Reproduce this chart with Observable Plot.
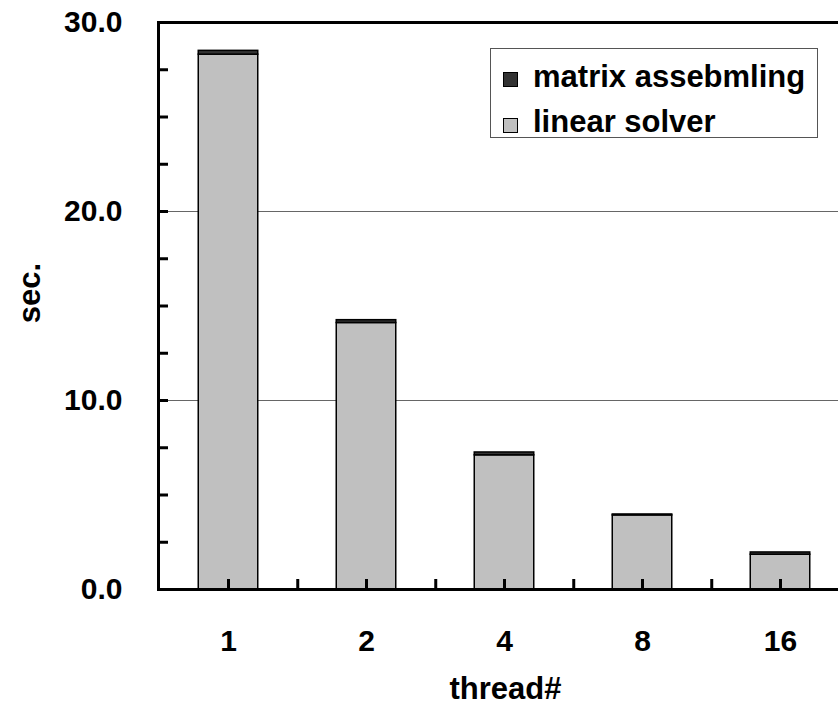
<!DOCTYPE html>
<html>
<head>
<meta charset="utf-8">
<script src="https://cdn.jsdelivr.net/npm/d3@7"></script>
<script src="https://cdn.jsdelivr.net/npm/@observablehq/plot@0.6"></script>
<style>
  body { margin: 0; background: #fff; font-family: "Liberation Sans", Arial, sans-serif; }
  #wrap { position: relative; width: 838px; height: 704px; overflow: hidden; background: #fff; }
  #wrap svg { position: absolute; left: 0; top: 0; overflow: hidden; }
  .legend { position: absolute; left: 490px; top: 48px; width: 328px; height: 90px; border: 1px solid #555; background: #fff; box-sizing: border-box; }
  .sw { position: absolute; width: 13px; height: 13px; border: 1px solid #000; }
  .lt { position: absolute; font-size: 31px; font-weight: bold; line-height: 35px; white-space: nowrap; color: #000; }
</style>
</head>
<body>
<div id="wrap"></div>
<script>
// ---- data ----
const threads = ["1", "2", "4", "8", "16"];
const linearSolver = [28.3, 14.1, 7.1, 3.92, 1.84];
const matrixAssembling = [0.2, 0.15, 0.15, 0.05, 0.12];
const seriesNames = ["linear solver", "matrix assebmling"];
const seriesColors = ["#c0c0c0", "#333333"];
const legendOrder = ["matrix assebmling", "linear solver"];
const yLabelTicks = [0, 10, 20, 30];
const yMinorTicks = [0, 2.5, 5, 7.5, 10, 12.5, 15, 17.5, 20, 22.5, 25, 27.5, 30];
const gridTicks = [10, 20];
const xTitle = "thread#";
const yTitle = "sec.";

const rows = threads.flatMap((t, i) => [
  {thread: t, series: seriesNames[0], value: linearSolver[i]},
  {thread: t, series: seriesNames[1], value: matrixAssembling[i]}
]);

const W = 838, H = 704, mL = 158, mT = 22, mB = 115;
const xRange = [158, 850.5];
const step = (xRange[1] - xRange[0]) / threads.length;

const chart = Plot.plot({
  width: W, height: H,
  marginLeft: mL, marginTop: mT, marginBottom: mB, marginRight: 0,
  style: {fontFamily: "'Liberation Sans', Arial, sans-serif", fontWeight: "bold", fontSize: "30px", color: "#000", background: "#fff", overflow: "hidden"},
  x: {domain: threads, range: xRange, padding: 0},
  y: {domain: [0, 30]},
  color: {domain: seriesNames, range: seriesColors},
  marks: [
    Plot.ruleY(gridTicks, {stroke: "#666", strokeWidth: 1}),
    Plot.barY(rows, {x: "thread", y: "value", fill: "series", stroke: "#000", strokeWidth: 1.5, insetLeft: 39.25, insetRight: 39.25}),
    Plot.ruleY([30], {stroke: "#000", strokeWidth: 3}),
    Plot.ruleY([0], {stroke: "#000", strokeWidth: 3}),
    Plot.frame({anchor: "left", stroke: "#000", strokeWidth: 3}),
    Plot.axisY(yMinorTicks, {tickSize: -10, strokeWidth: 3, tickFormat: () => "", label: null}),
    Plot.axisY(yLabelTicks, {tickSize: 0, tickPadding: 36, tickFormat: d => d.toFixed(1), fontSize: 30, label: null}),
    Plot.axisX(threads, {tickSize: -10, strokeWidth: 3, tickFormat: () => "", label: null}),
    Plot.axisX(threads, {tickSize: -10, strokeWidth: 3, tickFormat: () => "", label: null, dx: step / 2}),
    Plot.axisX(threads, {tickSize: 0, tickPadding: 40, fontSize: 30, label: null}),
    Plot.text([yTitle], {frameAnchor: "left", textAnchor: "middle", rotate: -90, dx: -128, dy: -13, fontSize: 31, fontWeight: "bold"}),
    Plot.text([xTitle], {frameAnchor: "bottom", dy: 109, dx: 7, fontSize: 31, fontWeight: "bold"})
  ]
});

const wrap = document.getElementById("wrap");
wrap.appendChild(chart);

// legend
const lg = document.createElement("div");
lg.className = "legend";
wrap.appendChild(lg);
const color = d3.scaleOrdinal(seriesNames, seriesColors);
legendOrder.forEach((name, i) => {
  const sw = document.createElement("div");
  sw.className = "sw";
  sw.style.left = (502 - 490) + "px";
  sw.style.top = (71 - 48 + i * 46) + "px";
  sw.style.background = color(name);
  lg.appendChild(sw);
  const t = document.createElement("div");
  t.className = "lt";
  t.style.left = (532 - 490) + "px";
  t.style.top = (58 - 48 + i * 45) + "px";
  t.textContent = name;
  lg.appendChild(t);
});
</script>
</body>
</html>
